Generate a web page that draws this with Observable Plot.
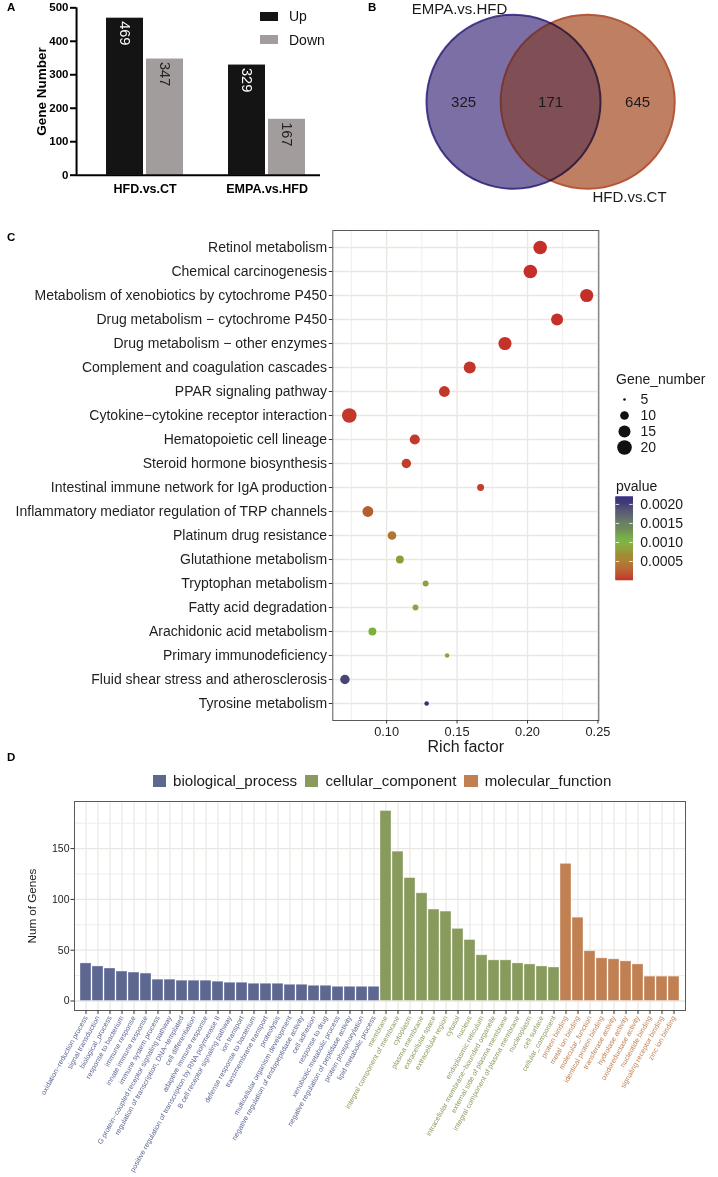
<!DOCTYPE html>
<html><head><meta charset="utf-8">
<script src="https://cdn.jsdelivr.net/npm/d3@7"></script>
<script src="https://cdn.jsdelivr.net/npm/@observablehq/plot@0.6"></script>
<style>
body{margin:0;background:#fff;font-family:"Liberation Sans",Arial,Helvetica,sans-serif;}
#root{position:relative;width:718px;height:1177px;overflow:hidden;background:#fff;}
#root > *{position:absolute;}
.plab{font-weight:bold;font-size:11.5px;line-height:1;color:#000;}
.txt{line-height:1;white-space:nowrap;color:#1a1a1a;}
</style></head><body><div id="root"></div>
<script>
// ---------------- Panel A: DEG counts ----------------
const degGroups = ["HFD.vs.CT", "EMPA.vs.HFD"];
const degDirections = ["Up", "Down"];
const degUp = [469, 329];
const degDown = [347, 167];
const degTicks = [0, 100, 200, 300, 400, 500];

// ---------------- Panel B: Venn ----------------
const vennSets = ["EMPA.vs.HFD", "HFD.vs.CT"];
const vennOnly = [325, 645];
const vennShared = 171;

// ---------------- Panel C: KEGG enrichment ----------------
const keggTerms = [
  "Retinol metabolism",
  "Chemical carcinogenesis",
  "Metabolism of xenobiotics by cytochrome P450",
  "Drug metabolism \u2212 cytochrome P450",
  "Drug metabolism \u2212 other enzymes",
  "Complement and coagulation cascades",
  "PPAR signaling pathway",
  "Cytokine\u2212cytokine receptor interaction",
  "Hematopoietic cell lineage",
  "Steroid hormone biosynthesis",
  "Intestinal immune network for IgA production",
  "Inflammatory mediator regulation of TRP channels",
  "Platinum drug resistance",
  "Glutathione metabolism",
  "Tryptophan metabolism",
  "Fatty acid degradation",
  "Arachidonic acid metabolism",
  "Primary immunodeficiency",
  "Fluid shear stress and atherosclerosis",
  "Tyrosine metabolism"
];
const keggRichFactor = [0.209, 0.202, 0.242, 0.221, 0.184, 0.159, 0.141, 0.0735, 0.120, 0.114,
  0.1667, 0.0867, 0.1038, 0.1094, 0.1277, 0.1205, 0.0899, 0.1429, 0.0704, 0.1284];
const keggGeneNumber = [18, 18, 17, 15, 17, 15, 13, 20, 12, 11, 8, 13, 10, 9, 7, 7, 9, 6, 11, 6];
const keggPvalue = [2e-7, 5e-7, 8e-7, 5e-6, 1e-5, 2e-5, 3e-5, 4e-5, 5e-5, 6e-5,
  8e-5, 0.00026, 0.00046, 0.00080, 0.00085, 0.00098, 0.00100, 0.00104, 0.00196, 0.00215];
const geneNumberLegend = [5, 10, 15, 20];
const pvalueTicks = [0.0005, 0.0010, 0.0015, 0.0020];
const richTicks = [0.10, 0.15, 0.20, 0.25];

// ---------------- Panel D: GO terms ----------------
const goCategories = ["biological_process", "cellular_component", "molecular_function"];
const bpTerms = ["oxidation\u2212reduction process", "signal transduction", "biological_process",
  "response to bacterium", "immune response", "innate immune response", "immune system process",
  "G protein\u2212coupled receptor signaling pathway", "regulation of transcription, DNA\u2212templated",
  "cell differentiation", "adaptive immune response",
  "positive regulation of transcription by RNA polymerase II", "B cell receptor signaling pathway",
  "ion transport", "defense response to bacterium", "transmembrane transport", "proteolysis",
  "multicellular organism development", "negative regulation of endopeptidase activity",
  "cell adhesion", "response to drug", "xenobiotic metabolic process",
  "negative regulation of peptidase activity", "protein phosphorylation", "lipid metabolic process"];
const bpCounts = [37, 34, 32, 29, 28, 27, 21, 21, 20, 20, 20, 19, 18, 18, 17, 17, 17, 16, 16, 15, 15, 14, 14, 14, 14];
const ccTerms = ["membrane", "integral component of membrane", "cytoplasm", "plasma membrane",
  "extracellular space", "extracellular region", "cytosol", "nucleus", "endoplasmic reticulum",
  "intracellular membrane\u2212bounded organelle", "external side of plasma membrane",
  "integral component of plasma membrane", "nucleoplasm", "cell surface", "cellular_component"];
const ccCounts = [187, 147, 121, 106, 90, 88, 71, 60, 45, 40, 40, 37, 36, 34, 33];
const mfTerms = ["protein binding", "metal ion binding", "molecular_function", "identical protein binding",
  "transferase activity", "hydrolase activity", "oxidoreductase activity", "nucleotide binding",
  "signaling receptor binding", "zinc ion binding"];
const mfCounts = [135, 82, 49, 42, 41, 39, 36, 24, 24, 24];
const goTicks = [0, 50, 100, 150];
const goMinorTicks = [25, 75, 125, 175];

// ---------------- styles ----------------
const FONT = "Liberation Sans, Arial, Helvetica, sans-serif";
const root = document.getElementById("root");
function put(el, left, top) { el.style.left = left + "px"; el.style.top = top + "px"; root.appendChild(el); return el; }
function html(tag, cls, text, css) { const e = document.createElement(tag); if (cls) e.className = cls; if (text != null) e.textContent = text; Object.assign(e.style, css || {}); return e; }

// Panel letters
put(html("div", "plab", "A"), 7, 2);
put(html("div", "plab", "B"), 368, 2);
put(html("div", "plab", "C"), 7, 232);
put(html("div", "plab", "D"), 7, 752);

// ================= Panel A =================
const degRows = degGroups.flatMap((g, i) => [
  {group: g, dir: degDirections[0], value: degUp[i]},
  {group: g, dir: degDirections[1], value: degDown[i]}
]);
const A = {w: 340, h: 200, ml: 76, mr: 19.3, mt: 7.3, mb: 25.3, inL: 29.3, inR: 13.6, pad: 0.07};
const facetW = (A.w - A.ml - A.mr) / degGroups.length;
const bandStep = (facetW - A.inL - A.inR) / (degDirections.length - A.pad);
const bandW = bandStep * (1 - A.pad);
const plotA = Plot.plot({
  width: A.w, height: A.h, marginLeft: A.ml, marginRight: A.mr, marginTop: A.mt, marginBottom: A.mb,
  style: {fontFamily: FONT, background: "transparent"},
  fx: {domain: degGroups, padding: 0},
  x: {domain: degDirections, paddingInner: A.pad, paddingOuter: 0, insetLeft: A.inL, insetRight: A.inR, axis: null},
  y: {domain: [0, 500]},
  color: {domain: degDirections, range: ["#141414", "#a39c9c"]},
  marks: [
    Plot.barY(degRows, {fx: "group", x: "dir", y: "value", fill: "dir"}),
    Plot.text(degRows.filter(d => d.dir === "Up"), {fx: "group", x: "dir", y: "value", text: d => String(d.value),
      rotate: 90, textAnchor: "start", dy: 3, fill: "#ffffff", fontSize: 14.5}),
    Plot.text(degRows.filter(d => d.dir === "Down"), {fx: "group", x: "dir", y: "value", text: d => String(d.value),
      rotate: 90, textAnchor: "start", dy: 3, fill: "#222", fontSize: 14.5}),
    Plot.ruleY([0], {stroke: "#000", strokeWidth: 2}),
    Plot.ruleX([{g: degGroups[0], d: degDirections[0]}], {fx: "g", x: "d", y1: 0, y2: 500,
      dx: -(A.inL + bandW / 2), stroke: "#000", strokeWidth: 2}),
    Plot.axisY({ticks: degTicks, tickSize: 6, tickPadding: 2, strokeWidth: 2, stroke: "#000",
      fontWeight: "bold", fontSize: 11.5, fill: "#000", label: null}),
    Plot.text(["Gene Number"], {frameAnchor: "left", textAnchor: "middle", lineAnchor: "middle", rotate: -90,
      dx: -35, fontSize: 13.5, fontWeight: "bold", fill: "#000", facetAnchor: "left"}),
    Plot.axisFx({anchor: "bottom", tickSize: 0, tickPadding: 9, dx: 7.6, fontWeight: "bold",
      fontSize: 12.5, fill: "#000", label: null})
  ]
});
put(plotA, 0, 0);
// legend A
const colA = plotA.scale("color");
degDirections.forEach((d, i) => {
  put(html("div", null, null, {width: "18px", height: "9px", background: colA.apply(d)}), 260, 11.7 + i * 23.5);
  put(html("div", "txt", d, {fontSize: "14px", color: "#111"}), 289, 9.3 + i * 23.5);
});

// ================= Panel B =================
const vennHalfGap = 0.4265;
const vennCircles = vennSets.map((s, i) => ({set: s, cx: i === 0 ? -vennHalfGap : vennHalfGap}));
const vennNumbers = [
  {value: vennOnly[0], x: -1}, {value: vennShared, x: 0}, {value: vennOnly[1], x: 1}
];
const vennLabels = [
  {name: vennSets[0], x: -vennHalfGap - 0.62, y: 1.06},
  {name: vennSets[1], x: vennHalfGap + 0.48, y: -1.10}
];
const plotB = Plot.plot({
  width: 378, height: 210, marginLeft: 123.1, marginRight: 80.9, marginTop: 14.3, marginBottom: 21.7,
  style: {fontFamily: FONT, background: "transparent"},
  x: {domain: [-1, 1], axis: null}, y: {domain: [-1, 1], axis: null},
  marks: [
    Plot.dot(vennCircles.slice(0, 1), {x: "cx", y: () => 0, r: 87, fill: "#bab2bf", stroke: "none"}),
    Plot.dot(vennCircles.slice(1, 2), {x: "cx", y: () => 0, r: 87, fill: "#bf7f62", stroke: "#b5573b", strokeWidth: 2}),
    Plot.dot(vennCircles.slice(0, 1), {x: "cx", y: () => 0, r: 87, fill: "#aa9fdd", stroke: "#4d4098",
      strokeWidth: 2, mixBlendMode: "multiply"}),
    Plot.text(vennNumbers, {x: "x", y: () => 0, text: d => String(d.value), fontSize: 15, fill: "#1a1a1a"}),
    Plot.text(vennLabels, {x: "x", y: "y", text: "name", fontSize: 15, fill: "#1a1a1a"})
  ]
});
put(plotB, 340, 0);

// ================= Panel C =================
const keggRows = keggTerms.map((t, i) => ({term: t, rich: keggRichFactor[i], n: keggGeneNumber[i], p: keggPvalue[i]}));
const sizeOffset = 4.5;
const rScaleC = {type: "sqrt", domain: [0, 21 - sizeOffset], range: [0, 1.854 * Math.sqrt(21 - sizeOffset)]};
const colorC = {type: "linear", domain: [0, 0.00105, 0.00219], range: ["#c42f2a", "#76b43c", "#2e2a80"], interpolate: "lab"};
const GRID = "#ebe8e4";
const plotC = Plot.plot({
  width: 718, height: 540, marginLeft: 332.3, marginRight: 119.7, marginTop: 15, marginBottom: 35,
  style: {fontFamily: FONT, background: "transparent"},
  x: {domain: [0.0618, 0.2506]},
  y: {type: "point", domain: keggTerms, padding: 0.6},
  r: rScaleC,
  color: colorC,
  marks: [
    Plot.ruleX([0.075, 0.125, 0.175, 0.225], {stroke: GRID, strokeWidth: 0.7}),
    Plot.ruleX(richTicks, {stroke: GRID, strokeWidth: 1.4}),
    Plot.gridY({stroke: GRID, strokeOpacity: 1, strokeWidth: 1.4}),
    Plot.dot(keggRows, {x: "rich", y: "term", r: d => d.n - sizeOffset, fill: "p", stroke: "none"}),
    Plot.frame({stroke: "#5a5a5a", strokeWidth: 1}),
    Plot.axisY({tickSize: 3.5, tickPadding: 2.2, stroke: "#333", fontSize: 14, fill: "#1e1e1e", label: null}),
    Plot.axisX({ticks: richTicks, tickFormat: ".2f", tickSize: 3.5, tickPadding: 2.5, stroke: "#333",
      fontSize: 12.8, fill: "#1e1e1e", label: null}),
    Plot.text(["Rich factor"], {frameAnchor: "bottom", textAnchor: "middle", lineAnchor: "middle", dy: 26.7,
      fontSize: 16, fill: "#1a1a1a"})
  ]
});
put(plotC, 0, 215);

// Gene_number legend
put(html("div", "txt", "Gene_number", {fontSize: "14px"}), 616, 372);
const plotCsize = Plot.plot({
  width: 100, height: 70, marginLeft: 24, marginRight: 0, marginTop: 10.3, marginBottom: 9.7,
  style: {fontFamily: FONT, background: "transparent"},
  y: {type: "point", domain: geneNumberLegend, padding: 0, axis: null},
  r: rScaleC,
  marks: [
    Plot.dot(geneNumberLegend, {y: d => d, r: d => d - sizeOffset, fill: "#111", frameAnchor: "left"}),
    Plot.text(geneNumberLegend, {y: d => d, text: d => String(d), frameAnchor: "left", dx: 16,
      textAnchor: "start", fontSize: 14, fill: "#1a1a1a"})
  ]
});
put(plotCsize, 600, 388);

// pvalue legend (colour bar)
put(html("div", "txt", "pvalue", {fontSize: "14px"}), 616, 479);
const cbN = 80;
const cbStep = 0.00219 / cbN;
const cbCells = d3.range(0, cbN).map(i => ({y1: i * cbStep, y2: (i + 1) * cbStep, v: (i + 0.5) * cbStep}));
const plotCcol = Plot.plot({
  width: 118, height: 100, marginLeft: 15.7, marginRight: 85.3, marginTop: 6.7, marginBottom: 10,
  style: {fontFamily: FONT, background: "transparent"},
  y: {domain: [0, 0.00219]},
  color: colorC,
  marks: [
    Plot.rect(cbCells, {y1: "y1", y2: "y2", fill: "v", stroke: "v", strokeWidth: 0.6}),
    Plot.tickY(pvalueTicks, {y: d => d, stroke: "#ffffff", strokeWidth: 1, insetRight: 13.5, strokeOpacity: 0.8}),
    Plot.tickY(pvalueTicks, {y: d => d, stroke: "#ffffff", strokeWidth: 1, insetLeft: 13.5, strokeOpacity: 0.8}),
    Plot.axisY({anchor: "right", ticks: pvalueTicks, tickFormat: ".4f", tickSize: 0, tickPadding: 7,
      fontSize: 14, fill: "#1a1a1a", label: null})
  ]
});
put(plotCcol, 600, 490);

// ================= Panel D =================
const goRows = [
  ...bpTerms.map((t, i) => ({term: t, count: bpCounts[i], cat: goCategories[0]})),
  ...ccTerms.map((t, i) => ({term: t, count: ccCounts[i], cat: goCategories[1]})),
  ...mfTerms.map((t, i) => ({term: t, count: mfCounts[i], cat: goCategories[2]}))
];
const termCat = new Map(goRows.map(d => [d.term, d.cat]));
const plotD = Plot.plot({
  width: 718, height: 387, marginLeft: 74, marginRight: 33, marginTop: 11, marginBottom: 167,
  style: {fontFamily: FONT, background: "transparent"},
  x: {domain: goRows.map(d => d.term), paddingInner: 0.1, paddingOuter: 0.15},
  y: {domain: [-9.35, 196.35]},
  color: {domain: goCategories, range: ["#5c6792", "#889b5c", "#c18051"]},
  marks: [
    Plot.gridX({stroke: GRID, strokeOpacity: 1, strokeWidth: 1.2}),
    Plot.ruleY(goMinorTicks, {stroke: GRID, strokeWidth: 0.8}),
    Plot.ruleY(goTicks, {stroke: GRID, strokeWidth: 1.3}),
    Plot.barY(goRows, {x: "term", y: "count", fill: "cat", stroke: "#ffffff", strokeOpacity: 0.45, strokeWidth: 0.8}),
    Plot.frame({stroke: "#5a5a5a", strokeWidth: 1}),
    Plot.axisY({ticks: goTicks, tickSize: 3.5, tickPadding: 1.5, stroke: "#333", fontSize: 10.5, fill: "#222", label: null}),
    Plot.axisX({tickSize: 4, tickPadding: 2, stroke: "#333", tickRotate: -61, fontSize: 7.15,
      fill: d => termCat.get(d), label: null}),
    Plot.text(["Num of Genes"], {frameAnchor: "left", textAnchor: "middle", lineAnchor: "middle", rotate: -90,
      dx: -42, fontSize: 11.6, fill: "#222"})
  ]
});
put(plotD, 0, 790);
// legend D
const colD = plotD.scale("color");
const legD = html("div", null, null, {display: "flex", alignItems: "center", height: "16px"});
goCategories.forEach((c, i) => {
  legD.appendChild(html("span", null, null, {display: "inline-block", width: "13.3px", height: "12.7px",
    background: colD.apply(c), marginRight: "7px", marginLeft: i ? "8px" : "0"}));
  legD.appendChild(html("span", "txt", c, {fontSize: "15.1px", color: "#1a1a1a"}));
});
put(legD, 152.7, 773);
</script></body></html>
